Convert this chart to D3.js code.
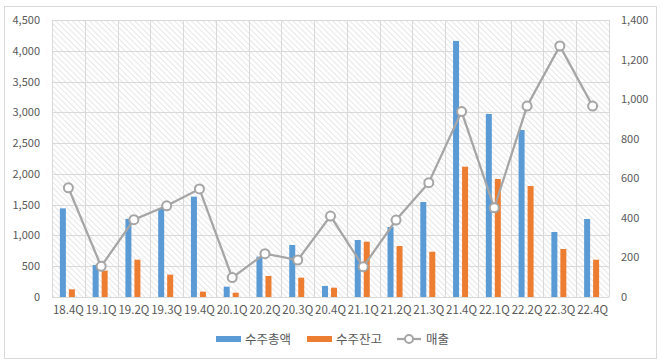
<!DOCTYPE html>
<html>
<head>
<meta charset="utf-8">
<script src="https://cdn.jsdelivr.net/npm/d3@7"></script>
<style>
  body { margin: 0; background: #fff; }
  text { font-family: "Noto Sans CJK KR", "Noto Sans", sans-serif; }
</style>
</head>
<body>
<div id="chart"></div>
<script>
var quarters = ['18.4Q','19.1Q','19.2Q','19.3Q','19.4Q','20.1Q','20.2Q','20.3Q','20.4Q',
                '21.1Q','21.2Q','21.3Q','21.4Q','22.1Q','22.2Q','22.3Q','22.4Q'];
var orderTotal = [1440, 520, 1270, 1440, 1630, 168, 655, 845, 180,
                  926, 1137, 1543, 4160, 2973, 2713, 1056, 1267];
var orderBacklog = [125, 428, 606, 363, 87, 70, 341, 314, 151,
                    899, 828, 736, 2117, 1917, 1803, 780, 606];
var sales = [552, 155, 391, 461, 546, 98, 219, 187, 409,
             153, 389, 578, 937, 451, 965, 1269, 965];
var leftTicks = d3.range(0, 4501, 500);
var rightTicks = d3.range(0, 1401, 200);
var seriesNames = ['수주총액', '수주잔고', '매출'];

var width = 663, height = 364;
var plot = { left: 52, right: 609, top: 20, bottom: 297 };
var blue = '#5b9bd5', orange = '#ed7d31', gray = '#a5a5a5';

var svg = d3.select('#chart')
    .append('svg')
    .attr('width', width)
    .attr('height', height);

// hatch pattern for plot background (lines running top-left to bottom-right)
var defs = svg.append('defs');
defs.append('pattern')
    .attr('id', 'hatch')
    .attr('patternUnits', 'userSpaceOnUse')
    .attr('width', 4)
    .attr('height', 4)
    .attr('patternTransform', 'rotate(-45)')
    .append('line')
    .attr('x1', 0).attr('y1', 0)
    .attr('x2', 0).attr('y2', 4)
    .attr('stroke', '#cfcfcf')
    .attr('stroke-width', 1);

// outer border
svg.append('rect')
    .attr('x', 4.5).attr('y', 6.5)
    .attr('width', 652).attr('height', 352)
    .attr('fill', 'none')
    .attr('stroke', '#d9d9d9');

var x = d3.scaleBand()
    .domain(quarters)
    .range([plot.left, plot.right]);

var yLeft = d3.scaleLinear()
    .domain([0, 4500])
    .range([plot.bottom, plot.top]);

var yRight = d3.scaleLinear()
    .domain([0, 1400])
    .range([plot.bottom, plot.top]);

svg.append('rect')
    .attr('x', plot.left).attr('y', plot.top)
    .attr('width', plot.right - plot.left)
    .attr('height', plot.bottom - plot.top)
    .attr('fill', 'url(#hatch)');

// gridlines
svg.append('g')
    .selectAll('line')
    .data(leftTicks)
    .enter()
    .append('line')
    .attr('x1', plot.left).attr('x2', plot.right)
    .attr('y1', d => Math.round(yLeft(d)) + 0.5)
    .attr('y2', d => Math.round(yLeft(d)) + 0.5)
    .attr('stroke', '#d9d9d9');

svg.append('g')
    .selectAll('line')
    .data(quarters.concat(['end']))
    .enter()
    .append('line')
    .attr('x1', (d, i) => Math.round(i < quarters.length ? x(d) : plot.right) + 0.5)
    .attr('x2', (d, i) => Math.round(i < quarters.length ? x(d) : plot.right) + 0.5)
    .attr('y1', plot.top).attr('y2', plot.bottom)
    .attr('stroke', '#d9d9d9');

// axes
var leftAxis = svg.append('g')
    .attr('transform', 'translate(' + plot.left + ',0)')
    .call(d3.axisLeft(yLeft).tickValues(leftTicks).tickFormat(d3.format(',')).tickSize(0).tickPadding(12));

var rightAxis = svg.append('g')
    .attr('transform', 'translate(' + plot.right + ',0)')
    .call(d3.axisRight(yRight).tickValues(rightTicks).tickFormat(d3.format(',')).tickSize(0).tickPadding(12));

var bottomAxis = svg.append('g')
    .attr('transform', 'translate(0,' + plot.bottom + ')')
    .call(d3.axisBottom(x).tickSize(0).tickPadding(9));

[leftAxis, rightAxis, bottomAxis].forEach(function(a) {
    a.select('.domain').remove();
    a.selectAll('text')
        .attr('fill', '#595959')
        .style('font-size', '11px');
});
bottomAxis.selectAll('text').style('font-size', '11.5px');
svg.append('line')
    .attr('x1', plot.left).attr('x2', plot.right)
    .attr('y1', plot.bottom + 0.5).attr('y2', plot.bottom + 0.5)
    .attr('stroke', '#d9d9d9');

// bars
var barW = 6;
svg.append('g')
    .selectAll('rect')
    .data(orderTotal)
    .enter()
    .append('rect')
    .attr('x', (d, i) => x(quarters[i]) + x.bandwidth() / 2 - 8.5)
    .attr('y', d => yLeft(d))
    .attr('width', barW)
    .attr('height', d => plot.bottom - yLeft(d))
    .attr('fill', blue);

svg.append('g')
    .selectAll('rect')
    .data(orderBacklog)
    .enter()
    .append('rect')
    .attr('x', (d, i) => x(quarters[i]) + x.bandwidth() / 2 + 0.5)
    .attr('y', d => yLeft(d))
    .attr('width', barW)
    .attr('height', d => plot.bottom - yLeft(d))
    .attr('fill', orange);

// sales line
var line = d3.line()
    .x((d, i) => x(quarters[i]) + x.bandwidth() / 2)
    .y(d => yRight(d));

svg.append('path')
    .datum(sales)
    .attr('d', line)
    .attr('fill', 'none')
    .attr('stroke', gray)
    .attr('stroke-width', 2.25);

svg.append('g')
    .selectAll('circle')
    .data(sales)
    .enter()
    .append('circle')
    .attr('cx', (d, i) => x(quarters[i]) + x.bandwidth() / 2)
    .attr('cy', d => yRight(d))
    .attr('r', 4.5)
    .attr('fill', '#fff')
    .attr('stroke', gray)
    .attr('stroke-width', 2);

// legend
var legend = svg.append('g').attr('transform', 'translate(0,339)');
legend.append('rect').attr('x', 216).attr('y', -3).attr('width', 25).attr('height', 6).attr('fill', blue);
legend.append('text').attr('x', 245).attr('y', 4.5).text(seriesNames[0]);
legend.append('rect').attr('x', 307).attr('y', -3).attr('width', 25).attr('height', 6).attr('fill', orange);
legend.append('text').attr('x', 336).attr('y', 4.5).text(seriesNames[1]);
legend.append('line').attr('x1', 397).attr('x2', 421).attr('y1', 0).attr('y2', 0)
    .attr('stroke', gray).attr('stroke-width', 2.25);
legend.append('circle').attr('cx', 409).attr('cy', 0).attr('r', 4)
    .attr('fill', '#fff').attr('stroke', gray).attr('stroke-width', 2);
legend.append('text').attr('x', 426).attr('y', 4.5).text(seriesNames[2]);
legend.selectAll('text')
    .attr('fill', '#595959')
    .style('font-size', '12.5px');
</script>
</body>
</html>
